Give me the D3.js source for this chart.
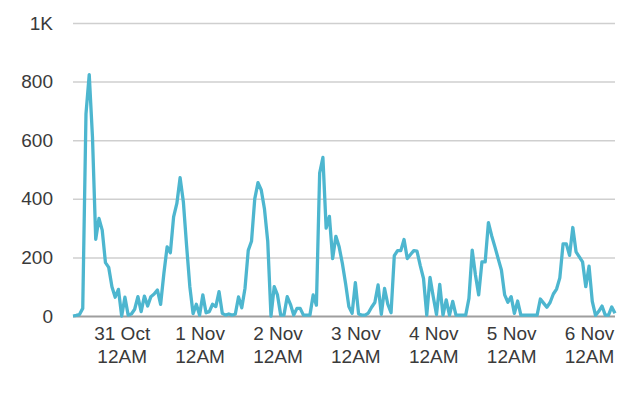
<!DOCTYPE html>
<html>
<head>
<meta charset="utf-8">
<script src="https://cdnjs.cloudflare.com/ajax/libs/d3/7.8.5/d3.min.js"></script>
<style>
  body { margin: 0; background: #fff; }
  text { font-family: "Liberation Sans", Arial, sans-serif; fill: #3a3a3a; }
</style>
</head>
<body>
<div id="chart"></div>
<script>
'use strict';

// hourly counts, 30 Oct 09:00 -> 6 Nov 08:00
const startTime = new Date(2017, 9, 30, 9);
const endTime = new Date(2017, 10, 6, 8);
const hourlyCounts = [
  0, 2, 5, 26, 690, 824, 611, 262, 333, 293, 182, 166, 100, 64, 91,
  0, 64, 3, 7, 23, 66, 15, 68, 34, 66, 75, 89, 40, 145, 236, 216, 338, 384, 472, 390, 240, 100, 8, 40,
  3, 72, 11, 15, 40, 32, 83, 9, 3, 7, 3, 6, 65, 28, 95, 224, 255, 400, 455, 430, 365, 255, 0, 100,
  72, 3, 3, 66, 40, 3, 26, 26, 3, 3, 3, 72, 37, 488, 541, 300, 340, 196, 272, 236, 179, 110, 32, 9,
  114, 7, 3, 3, 10, 30, 46, 106, 6, 94, 40, 11, 206, 223, 223, 261, 196, 210, 223, 221, 172, 128, 3,
  132, 66, 5, 108, 3, 55, 3, 50, 3, 3, 3, 3, 60, 225, 140, 72, 185, 185, 319, 274, 236, 196, 157, 72,
  47, 66, 9, 51, 3, 3, 3, 3, 3, 3, 58, 44, 30, 46, 75, 92, 130, 246, 246, 207, 302, 219, 202, 185,
  100, 170, 50, 2, 16, 34, 3, 3, 31, 9
];

const yTicks = [0, 200, 400, 600, 800, 1000];
const yTickLabels = ["0", "200", "400", "600", "800", "1K"];

const xTickDays = [
  new Date(2017, 9, 31), new Date(2017, 10, 1), new Date(2017, 10, 2), new Date(2017, 10, 3),
  new Date(2017, 10, 4), new Date(2017, 10, 5), new Date(2017, 10, 6)
];
const xTickDates = ["31 Oct", "1 Nov", "2 Nov", "3 Nov", "4 Nov", "5 Nov", "6 Nov"];
const xTickTimes = ["12AM", "12AM", "12AM", "12AM", "12AM", "12AM", "12AM"];

const hours = d3.timeHour.range(startTime, d3.timeHour.offset(endTime, 1));
const data = hours.map((t, i) => ({date: t, value: hourlyCounts[i]}));

const width = 640, height = 397;
const margin = {top: 23, right: 25, bottom: 81, left: 73};

const svg = d3.select("#chart").append("svg")
  .attr("width", width)
  .attr("height", height);

const x = d3.scaleTime()
  .domain([startTime, endTime])
  .range([margin.left, width - margin.right]);

const y = d3.scaleLinear()
  .domain([0, 1000])
  .range([height - margin.bottom, margin.top]);

//gridlines + y labels
const yAxis = d3.axisLeft(y)
  .tickValues(yTicks)
  .tickSize(-(width - margin.left - margin.right))
  .tickPadding(20)
  .tickFormat((d, i) => yTickLabels[i]);

const gy = svg.append("g")
  .attr("transform", `translate(${margin.left},0)`)
  .call(yAxis);
gy.select(".domain").remove();
gy.selectAll(".tick line")
  .attr("stroke", d => d === 0 ? "#9e9e9e" : "#cfcfcf")
  .attr("stroke-width", d => d === 0 ? 2 : 1.5);
gy.selectAll(".tick text")
  .attr("font-size", 19)
  .attr("fill", "#3a3a3a");

//x labels, two lines each
const gx = svg.append("g")
  .attr("transform", `translate(0,${height - margin.bottom})`)
  .call(d3.axisBottom(x).tickValues(xTickDays).tickSize(0).tickFormat(""));
gx.select(".domain").remove();
gx.selectAll(".tick").each(function(d, i) {
  const t = d3.select(this).select("text")
    .attr("font-size", 19)
    .attr("fill", "#3a3a3a")
    .attr("y", 0)
    .attr("dy", null);
  t.append("tspan").attr("x", 0).attr("y", 24).text(xTickDates[i]);
  t.append("tspan").attr("x", 0).attr("y", 47).text(xTickTimes[i]);
});

const line = d3.line()
  .x(d => x(d.date))
  .y(d => y(d.value));

svg.append("path")
  .datum(data)
  .attr("fill", "none")
  .attr("stroke", "#4db6cf")
  .attr("stroke-width", 3.3)
  .attr("stroke-linejoin", "round")
  .attr("d", line);
</script>
</body>
</html>
